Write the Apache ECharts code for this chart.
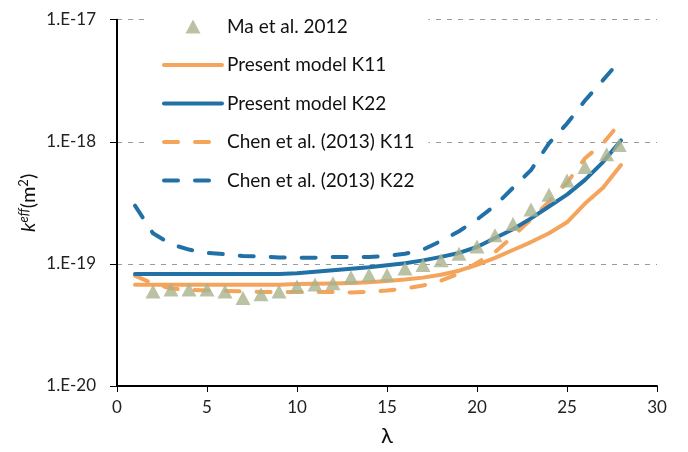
<!DOCTYPE html>
<html>
<head>
<meta charset="utf-8">
<script src="https://cdn.jsdelivr.net/npm/echarts@6/dist/echarts.min.js"></script>
<style>
html,body{margin:0;padding:0;background:#fff;}
#chart{width:688px;height:452px;}
</style>
</head>
<body>
<div id="chart"></div>
<script>
// ---- data ----
const lambdaLines = [1,2,3,4,5,6,7,8,9,10,11,12,13,14,15,16,17,18,19,20,21,22,23,24,25,26,27,28];
const presentK11 = [6.74e-20,6.74e-20,6.74e-20,6.74e-20,6.74e-20,6.74e-20,6.74e-20,6.74e-20,6.74e-20,6.85e-20,6.87e-20,6.90e-20,6.97e-20,7.07e-20,7.23e-20,7.44e-20,7.72e-20,8.16e-20,8.80e-20,9.83e-20,1.12e-19,1.30e-19,1.51e-19,1.78e-19,2.19e-19,3.12e-19,4.20e-19,6.45e-19];
const presentK22 = [8.27e-20,8.27e-20,8.27e-20,8.27e-20,8.27e-20,8.27e-20,8.27e-20,8.27e-20,8.27e-20,8.39e-20,8.63e-20,8.88e-20,9.13e-20,9.39e-20,9.74e-20,1.011e-19,1.069e-19,1.141e-19,1.23e-19,1.375e-19,1.63e-19,1.92e-19,2.36e-19,2.95e-19,3.69e-19,4.88e-19,6.82e-19,1.026e-18];
const chenK11 = [8.01e-20,6.90e-20,6.29e-20,6.12e-20,6.06e-20,6.00e-20,5.95e-20,5.89e-20,5.89e-20,5.89e-20,5.89e-20,5.89e-20,5.84e-20,5.89e-20,6.06e-20,6.29e-20,6.65e-20,7.30e-20,8.32e-20,1.02e-19,1.25e-19,1.68e-19,2.31e-19,3.24e-19,4.61e-19,7.34e-19,9.71e-19,1.46e-18];
const chenK22 = [3.00e-19,1.78e-19,1.45e-19,1.31e-19,1.23e-19,1.20e-19,1.16e-19,1.155e-19,1.13e-19,1.125e-19,1.125e-19,1.14e-19,1.14e-19,1.14e-19,1.16e-19,1.21e-19,1.31e-19,1.54e-19,1.85e-19,2.31e-19,3.00e-19,4.20e-19,5.87e-19,9.71e-19,1.41e-18,2.18e-18,3.20e-18,4.72e-18];
const maLambda = [2,3,4,5,6,7,8,9,10,11,12,13,14,15,16,17,18,19,20,21,22,23,24,25,26,27.2,27.9];
const maValues = [5.95e-20,6.17e-20,6.17e-20,6.17e-20,5.95e-20,5.25e-20,5.63e-20,5.95e-20,6.53e-20,6.78e-20,6.94e-20,7.76e-20,8.11e-20,8.11e-20,9.18e-20,9.78e-20,1.073e-19,1.21e-19,1.39e-19,1.72e-19,2.12e-19,2.79e-19,3.69e-19,4.81e-19,6.21e-19,7.91e-19,9.40e-19];
const seriesNames = ['Ma et al. 2012','Present model K11','Present model K22','Chen et al. (2013) K11','Chen et al. (2013) K22'];
const xTicks = {min: 0, max: 30, interval: 5};
const yTicks = {min: 1e-20, max: 1e-17};

const ORANGE = '#f5a45c';
const BLUE = '#2271a6';
const OLIVE = '#a9b38c';
const FONT = 'Lato';

function pairs(xs, ys){ return xs.map((x,i)=>[x, ys[i]]); }

const hiddenMarker = {opacity: 0};
const chart = echarts.init(document.getElementById('chart'));
chart.setOption({
  animation: false,
  backgroundColor: '#ffffff',
  grid: {left: 117, right: 31, top: 19.7, bottom: 61, containLabel: false},
  legend: {
    orient: 'vertical',
    left: 145, top: 5,
    padding: [12, 14, 10, 17],
    backgroundColor: '#ffffff',
    itemWidth: 58, itemHeight: 14, itemGap: 19.5,
    symbolKeepAspect: true,
    lineStyle: {width: 4, cap: 'round'},
    textStyle: {fontFamily: FONT, fontSize: 19, color: '#111'},
    data: [
      {name: seriesNames[0], icon: 'path://M7.5,0 L15,14 L0,14 Z'},
      {name: seriesNames[1], itemStyle: hiddenMarker},
      {name: seriesNames[2], itemStyle: hiddenMarker},
      {name: seriesNames[3], itemStyle: hiddenMarker},
      {name: seriesNames[4], itemStyle: hiddenMarker}
    ]
  },
  xAxis: {
    type: 'value', min: xTicks.min, max: xTicks.max, interval: xTicks.interval,
    name: 'λ', nameLocation: 'middle', nameGap: 39, nameMoveOverlap: false,
    nameTextStyle: {fontFamily: FONT, fontSize: 22, color: '#111'},
    axisLine: {show: true, onZero: false, lineStyle: {color: '#000', width: 2}},
    axisTick: {show: true, inside: false, length: 6, lineStyle: {color: '#000', width: 1}},
    axisLabel: {fontFamily: FONT, fontSize: 17, color: '#222', margin: 13},
    splitLine: {show: false}
  },
  yAxis: {
    type: 'log', logBase: 10, min: yTicks.min, max: yTicks.max,
    name: '{k|k}{e|eff}{n|(m}{s|2}{n|)}', nameLocation: 'middle', nameGap: 78, nameMoveOverlap: false,
    nameTextStyle: {
      color: '#111',
      rich: {
        k: {fontFamily: FONT, fontSize: 20, fontStyle: 'italic', lineHeight: 22, verticalAlign: 'bottom', color: '#111'},
        e: {fontFamily: FONT, fontSize: 13, fontStyle: 'italic', lineHeight: 13, verticalAlign: 'top', color: '#111'},
        n: {fontFamily: FONT, fontSize: 20, lineHeight: 22, verticalAlign: 'bottom', color: '#111'},
        s: {fontFamily: FONT, fontSize: 13, lineHeight: 13, verticalAlign: 'top', color: '#111'}
      }
    },
    axisLine: {show: true, lineStyle: {color: '#000', width: 2}},
    axisTick: {show: true, inside: false, length: 7, lineStyle: {color: '#000', width: 1}},
    minorTick: {show: false},
    axisLabel: {
      fontFamily: FONT, fontSize: 17, color: '#222', margin: 21,
      formatter: v => '1.E' + Math.round(Math.log10(v))
    },
    splitLine: {show: true, lineStyle: {color: '#9a9a9a', width: 1, type: [5, 6]}}
  },
  series: [
    {name: seriesNames[0], type: 'scatter', symbol: 'triangle', symbolSize: [15, 14],
     itemStyle: {color: OLIVE}, data: pairs(maLambda, maValues), z: 5},
    {name: seriesNames[1], type: 'line', symbol: 'none', smooth: false,
     lineStyle: {color: ORANGE, width: 4, cap: 'round', join: 'round'}, itemStyle: {color: ORANGE},
     data: pairs(lambdaLines, presentK11), z: 3},
    {name: seriesNames[2], type: 'line', symbol: 'none',
     lineStyle: {color: BLUE, width: 4, cap: 'round', join: 'round'}, itemStyle: {color: BLUE},
     data: pairs(lambdaLines, presentK22), z: 4},
    {name: seriesNames[3], type: 'line', symbol: 'none',
     lineStyle: {color: ORANGE, width: 4, type: [14, 17], cap: 'round', join: 'round'}, itemStyle: {color: ORANGE},
     data: pairs(lambdaLines, chenK11), z: 3},
    {name: seriesNames[4], type: 'line', symbol: 'none',
     lineStyle: {color: BLUE, width: 4, type: [14, 17], cap: 'round', join: 'round'}, itemStyle: {color: BLUE},
     data: pairs(lambdaLines, chenK22), z: 3}
  ]
});
</script>
</body>
</html>
